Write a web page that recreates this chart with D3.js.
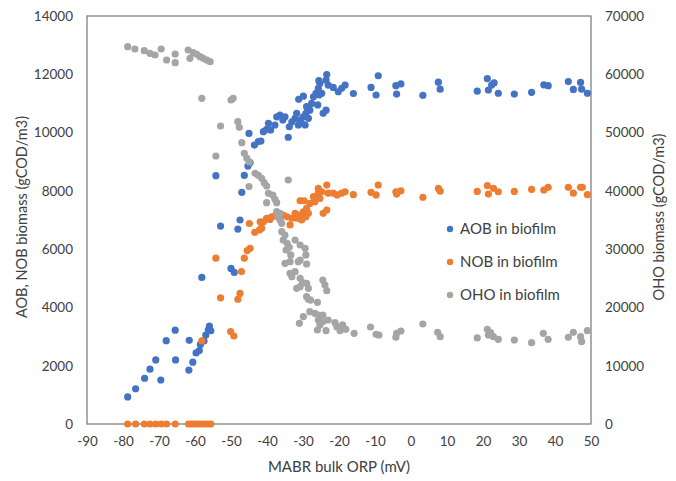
<!DOCTYPE html>
<html>
<head>
<meta charset="utf-8">
<script src="https://cdn.jsdelivr.net/npm/d3@7"></script>
<style>
  html, body { margin: 0; padding: 0; background: #fff; }
  svg text { font-family: Lato, "Open Sans", sans-serif; fill: #404040; }
</style>
</head>
<body>
<svg id="chart" width="676" height="481"></svg>
<script>
// Bulk ORP (mV) and biomass (gCOD/m3) for each population in the biofilm
const aobOrp = [-78.7,-76.5,-74.0,-72.5,-70.9,-69.5,-68.0,-65.5,-65.4,-61.6,-61.7,-60.6,-59.7,-58.8,-58.5,-57.5,-57.0,-56.3,-56.0,-55.6,
  -58.1,-52.9,-54.2,-50.0,-49.1,-48.1,-47.5,-47.0,-46.3,-45.3,-44.7,-45.0,-43.5,-42.4,-41.7,-41.0,-40.1,-39.6,-39.0,-37.8,
  -37.3,-36.4,-35.6,-35.0,-34.1,-33.8,-33.1,-32.2,-31.75,-31.3,-30.8,-30.4,-29.9,-29.4,-29.2,-29.0,-28.5,-28.1,-31.2,-29.9,
  -27.6,-27.1,-26.4,-25.9,-25.5,-25.75,-25.3,-25.6,-24.8,-24.4,-23.6,-23.4,-23.6,-23.0,-21.6,-20.2,-19.25,-18.3,-16.0,-11.1,
  -9.1,-9.7,-4.2,-2.8,-4.0,3.3,7.6,8.1,18.4,21.2,21.5,22.4,23.1,24.25,28.7,33.5,36.9,38.1,43.7,45.1,47.1,47.4,49.0];
const aobBiomass = [930,1210,1570,1880,2200,1510,2860,3220,2200,2870,1850,2120,2440,2520,2730,2850,3050,3230,3360,3200,
  5030,6790,8520,5340,5200,6690,7000,7950,8530,8850,8970,9970,9570,9690,9710,10030,10110,10320,10090,10260,
  10540,10600,10430,10540,9840,10200,10370,10490,10660,10260,10430,10320,10540,10260,10660,10890,10490,10770,11140,11250,
  11000,11230,11350,10950,11290,11520,11690,11780,11350,10660,10770,11990,11800,11630,11550,11400,11520,11630,11340,11550,
  11950,11290,11610,11670,11320,11280,11730,11490,11420,11850,11460,11630,11710,11350,11320,11380,11640,11610,11750,11480,11720,11490,11350];

const nobOrp = [-78.7,-76.5,-74.1,-72.5,-70.9,-69.4,-67.9,-65.5,-61.8,-61.0,-60.1,-59.2,-58.3,-57.4,-56.5,-55.6,
  -54.2,-52.9,-58.1,-50.1,-49.2,-48.1,-47.5,-47.1,-46.3,-45.5,-44.7,-44.9,-43.4,-42.1,-41.5,-41.9,-41.0,-40.1,-39.2,-38.7,
  -37.8,-37.3,-36.4,-35.5,-34.4,-33.6,-33.1,-32.2,-31.75,-30.8,-30.4,-29.9,-29.2,-29.0,-28.5,-30.8,-29.7,-28.1,-27.1,-26.7,
  -25.75,-25.75,-25.3,-24.8,-24.4,-23.4,-23.4,-23.0,-21.6,-20.5,-19.25,-18.3,-16.0,-11.1,-9.1,-9.7,-4.2,-2.8,-4.0,3.3,
  7.6,8.1,18.4,21.2,21.5,22.9,24.25,28.7,33.5,36.9,38.1,43.7,45.1,47.1,47.6,49.0];
const nobBiomass = [0,0,0,0,0,0,0,0,0,0,0,0,0,0,0,0,
  5690,4330,2850,3170,3020,4280,4480,5230,5690,5950,6030,6880,6580,6660,6720,6940,6940,7060,7020,7110,
  7140,7230,7060,7170,7110,6830,7060,7230,7060,7170,7000,7280,7110,7400,7230,7660,7660,7570,7800,7630,
  7920,8090,7740,7970,7230,7340,8200,7920,7920,7860,7920,7970,7870,7950,8200,7860,7970,8000,7890,7780,
  8090,7990,7980,8180,7890,8090,7970,7980,8050,8030,8120,8120,7920,8120,8120,7870];

const ohoOrp = [-78.7,-76.7,-74.1,-72.5,-71.1,-69.4,-67.9,-65.5,-65.5,-61.9,-61.4,-60.5,-59.5,-58.6,-57.7,-56.75,-55.8,
  -58.1,-50.0,-49.4,-52.9,-48.1,-47.7,-47.0,-54.2,-46.3,-45.6,-44.9,-45.0,-43.3,-42.4,-41.5,-40.8,-40.1,-34.1,-39.6,-38.4,
  -37.8,-40.1,-37.3,-37.3,-36.4,-36.9,-36.4,-35.9,-35.9,-35.0,-35.5,-34.4,-32.2,-34.7,-33.8,-30.8,-29.4,-33.4,-30.8,-29.2,
  -29.0,-33.6,-35.0,-31.3,-33.6,-32.2,-33.1,-30.8,-30.1,-29.0,-31.75,-30.8,-28.5,-24.5,-23.9,-23.4,-29.0,-28.5,-27.9,-26.0,
  -28.1,-26.7,-25.75,-24.5,-29.9,-31.0,-25.75,-24.5,-23.0,-25.3,-26.0,-23.6,-21.1,-20.6,-19.7,-19.0,-18.1,-15.8,-11.25,
  -9.7,-8.9,-4.2,-4.0,-2.8,3.3,7.4,8.1,18.4,21.2,21.5,22.1,22.9,24.25,28.7,33.5,36.75,38.1,43.7,45.1,47.1,47.4,49.0];
const ohoBiomass = [64730,64340,64050,63600,63310,64340,62450,63480,61990,64170,62740,63700,63430,63020,62740,62450,62160,
  55880,55590,55880,51130,51870,50900,48260,45980,46440,45590,44950,40750,43010,42640,42150,41400,40830,41860,39580,39290,
  38550,37970,37970,36420,36150,35570,35000,34430,32990,32430,31570,31000,31570,29850,30320,30710,30150,29000,28140,29000,
  27450,27850,27570,27850,25860,26130,25270,25000,24240,24140,23280,23560,23280,24710,23850,22870,21840,21400,21270,20880,
  19270,18990,18700,18700,18410,17280,17840,17550,17840,16990,16130,16010,17380,16690,16010,16990,16250,15560,16640,
  15390,15270,14880,15560,15960,17160,15730,14980,14760,16250,15270,15660,14980,14530,14410,13950,15560,14530,14880,15730,14980,14120,16010];

const xTicks = [-90,-80,-70,-60,-50,-40,-30,-20,-10,0,10,20,30,40,50];
const leftTicks = [0,2000,4000,6000,8000,10000,12000,14000];
const rightTicks = [0,10000,20000,30000,40000,50000,60000,70000];

const series = [
  { name: "AOB in biofilm", color: "#4472C4", axis: "left",  x: aobOrp, y: aobBiomass },
  { name: "NOB in biofilm", color: "#ED7D31", axis: "left",  x: nobOrp, y: nobBiomass },
  { name: "OHO in biofilm", color: "#A5A5A5", axis: "right", x: ohoOrp, y: ohoBiomass }
];

const svg = d3.select("#chart");
const plot = { left: 87, right: 591, top: 16, bottom: 424 };

const x = d3.scaleLinear().domain([-90, 50]).range([plot.left, plot.right]);
const yLeft = d3.scaleLinear().domain([0, 14000]).range([plot.bottom, plot.top]);
const yRight = d3.scaleLinear().domain([0, 70000]).range([plot.bottom, plot.top]);

// Plain integer labels with an ASCII hyphen for negatives
const plain = d => String(d);

// Axes (labels only; the frame is drawn as one box)
const fontSize = 13.5;
const gx = svg.append("g").attr("transform", `translate(0,${plot.bottom})`)
  .call(d3.axisBottom(x).tickValues(xTicks).tickSize(0).tickPadding(12).tickFormat(plain));
const gl = svg.append("g").attr("transform", `translate(${plot.left},0)`)
  .call(d3.axisLeft(yLeft).tickValues(leftTicks).tickSize(0).tickPadding(14).tickFormat(plain));
const gr = svg.append("g").attr("transform", `translate(${plot.right},0)`)
  .call(d3.axisRight(yRight).tickValues(rightTicks).tickSize(0).tickPadding(14).tickFormat(plain));
[gx, gl, gr].forEach(g => {
  g.select(".domain").remove();
  g.selectAll("text").attr("font-family", null).style("font-size", fontSize + "px").style("fill", "#404040");
});

// Plot frame
svg.append("rect")
  .attr("x", plot.left).attr("y", plot.top)
  .attr("width", plot.right - plot.left).attr("height", plot.bottom - plot.top)
  .attr("fill", "none").attr("stroke", "#808080").attr("stroke-width", 1.3);

// Points
series.forEach(s => {
  const yScale = s.axis === "left" ? yLeft : yRight;
  svg.append("g").selectAll("circle")
    .data(s.x.map((v, i) => [v, s.y[i]]))
    .join("circle")
    .attr("cx", d => x(d[0]))
    .attr("cy", d => yScale(d[1]))
    .attr("r", 3.6)
    .attr("fill", s.color);
});

// Axis titles
svg.append("text").attr("x", (plot.left + plot.right) / 2).attr("y", 472)
  .attr("text-anchor", "middle").style("font-size", "15px").text("MABR bulk ORP (mV)");
svg.append("text").attr("transform", "translate(27,217) rotate(-90)")
  .attr("text-anchor", "middle").style("font-size", "14.5px").text("AOB, NOB biomass (gCOD/m3)");
svg.append("text").attr("transform", "translate(664,217) rotate(-90)")
  .attr("text-anchor", "middle").style("font-size", "14.5px").text("OHO biomass (gCOD/m3)");

// Legend
const legend = svg.append("g");
series.forEach((s, i) => {
  const ly = 229 + i * 33;
  legend.append("circle").attr("cx", 450).attr("cy", ly).attr("r", 3.2).attr("fill", s.color);
  legend.append("text").attr("x", 460).attr("y", ly).attr("dy", "0.35em")
    .style("font-size", "15px").text(s.name);
});
</script>
</body>
</html>
